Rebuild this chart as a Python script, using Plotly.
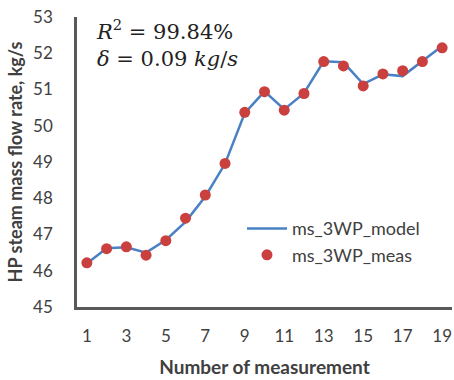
import plotly.graph_objects as go

measurement = list(range(1, 20))
model = [46.20, 46.62, 46.65, 46.50, 46.85, 47.35, 48.05, 48.95, 50.35, 50.95,
         50.45, 50.90, 51.78, 51.75, 51.15, 51.42, 51.37, 51.78, 52.20]
meas = [46.22, 46.61, 46.66, 46.43, 46.83, 47.45, 48.09, 48.96, 50.37, 50.94,
        50.43, 50.89, 51.77, 51.65, 51.10, 51.43, 51.52, 51.77, 52.15]
x_ticks = [1, 3, 5, 7, 9, 11, 13, 15, 17, 19]
y_ticks = [45, 46, 47, 48, 49, 50, 51, 52, 53]

font = "Lato, 'Open Sans', sans-serif"

fig = go.Figure()
fig.add_trace(go.Scatter(x=measurement, y=model, mode="lines", name="ms_3WP_model",
                         line=dict(color="#4A80C4", width=2.5), cliponaxis=False))
fig.add_trace(go.Scatter(x=measurement, y=meas, mode="markers", name="ms_3WP_meas",
                         marker=dict(color="#C9403E", size=11), cliponaxis=False))

fig.update_layout(
    width=454, height=380,
    margin=dict(l=77, r=2, t=17, b=73, autoexpand=False),
    plot_bgcolor="white", paper_bgcolor="white",
    font=dict(family=font, size=17, color="#404040"),
    showlegend=True,
    legend=dict(x=0.44, y=0.225, xanchor="left", yanchor="middle",
                font=dict(size=18, color="#404040"), bgcolor="rgba(0,0,0,0)",
                itemwidth=40, tracegroupgap=0),
    xaxis=dict(range=[0.5, 19.5], tickvals=x_ticks, showgrid=False, zeroline=False,
               automargin=False,
               showline=True, linecolor="#595959", linewidth=2.5,
               ticks="outside", ticklen=12, tickcolor="rgba(0,0,0,0)",
               title=dict(text="<b>Number of measurement</b>", standoff=16,
                          font=dict(size=19, color="#404040"))),
    yaxis=dict(range=[45, 53], tickvals=y_ticks, showgrid=False, zeroline=False,
               automargin=False,
               showline=True, linecolor="#595959", linewidth=2.5,
               ticks="outside", ticklen=18, tickcolor="rgba(0,0,0,0)",
               title=dict(text="<b>HP steam mass flow rate, kg/s</b>", standoff=6,
                          font=dict(size=18, color="#404040"))),
    annotations=[dict(xref="paper", yref="paper", x=0.045, y=1.01, xanchor="left", yanchor="top",
                      align="left", showarrow=False,
                      text="<i>R</i><sup>2</sup> = 99.84%<br><i>δ</i> = 0.09 <i>kg</i>/<i>s</i>",
                      font=dict(family="'DejaVu Serif', 'Liberation Serif', serif", size=21, color="#222222"))],
)

fig.write_html("out.html", config={"displayModeBar": False},
               post_script="document.body.style.margin='0';")
